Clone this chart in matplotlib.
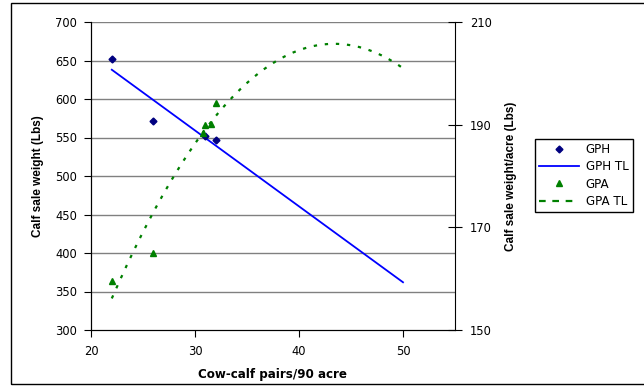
import numpy as np
import matplotlib.pyplot as plt
from matplotlib.patches import Rectangle

plt.rcParams['font.family'] = ['Liberation Sans', 'DejaVu Sans']

# GPH: calf sale weight per head (left axis)
gph_x = [22, 26, 31, 32]
gph_y = [652, 572, 552, 547]

# GPA: calf sale weight per acre (right axis)
gpa_x = [22, 26, 30.8, 31, 31.5, 32]
gpa_y = [159.5, 165, 188.3, 189.9, 190.2, 194.3]

# trend lines
gph_tl_x = [22, 50]
gph_tl_y = [638, 362]
gpa_tl_x = [22, 25.9, 29.2, 31, 33.4, 35.5, 38, 42.5, 43.5, 47.8, 49.7]
gpa_tl_y = [156.2, 172.8, 184.0, 188.4, 194.9, 199.2, 202.8, 205.8, 205.8, 203.6, 201.3]

# the screenshot is stretched sideways, so horizontal text uses a wider face
wide = ['DejaVu Sans']

fig = plt.figure(figsize=(6.44, 3.87), dpi=100)
fig.patches.append(Rectangle((11 / 644, 3 / 387), 640 / 644, 381 / 387,
                             transform=fig.transFigure, fill=False,
                             edgecolor='black', linewidth=1.0))

ax = fig.add_axes([91 / 644, 57 / 387, 364 / 644, 308 / 387])
ax2 = ax.twinx()

ax.set_xlim(20, 55)
ax.set_ylim(300, 700)
ax2.set_ylim(150, 210)

ax.set_xticks([20, 30, 40, 50])
ax.set_yticks(range(300, 701, 50))
ax2.set_yticks([150, 170, 190, 210])

for y in range(350, 701, 50):
    ax.axhline(y, color='#808080', linewidth=1.0, zorder=0)

for a in (ax, ax2):
    a.spines['top'].set_visible(False)
    a.tick_params(labelsize=8.3, length=5, width=0.8, color='black', pad=5)
    for t in a.get_xticklabels() + a.get_yticklabels():
        t.set_family(wide)
ax.tick_params(axis='x', direction='out', pad=6)
ax2.tick_params(axis='y', direction='inout', length=10, pad=6)
ax.spines['right'].set_visible(False)

l1, = ax.plot(gph_x, gph_y, linestyle='none', marker='D', markersize=3.5,
              color='#000080', label='GPH', zorder=4)
l2, = ax.plot(gph_tl_x, gph_tl_y, color='#0000FF', linewidth=1.3,
              label='GPH TL', zorder=3)

l3, = ax2.plot(gpa_x, gpa_y, linestyle='none', marker='^', markersize=5,
               color='#008000', label='GPA', zorder=4)
coef = np.polyfit(gpa_tl_x, gpa_tl_y, 2)
xs = np.linspace(22, 50, 200)
ax2.plot(xs, np.polyval(coef, xs), color='#008000', linewidth=1.6,
         linestyle=(0, (1.5, 3.5)), zorder=3)
l4, = ax2.plot([], [], color='#008000', linewidth=1.6, linestyle=(0, (3, 3)),
               label='GPA TL')

ax.set_xlabel('Cow-calf pairs/90 acre', fontsize=8.6, fontweight='bold',
              family=wide, labelpad=7)
ax.set_ylabel('Calf sale weight (Lbs)', fontsize=8.5, fontweight='bold', labelpad=8)
ax2.set_ylabel('Calf sale weight/acre (Lbs)', fontsize=8.5, fontweight='bold', labelpad=9)

fig.legend(handles=[l1, l2, l3, l4], loc='upper left',
           bbox_to_anchor=(535 / 644, 1 - 139 / 387),
           prop={'family': wide, 'size': 8.6},
           frameon=True, fancybox=False, edgecolor='black', framealpha=1,
           handlelength=3.3, handletextpad=0.6, borderpad=0.35,
           labelspacing=0.35, borderaxespad=0)

plt.savefig('out.png', dpi=100)
